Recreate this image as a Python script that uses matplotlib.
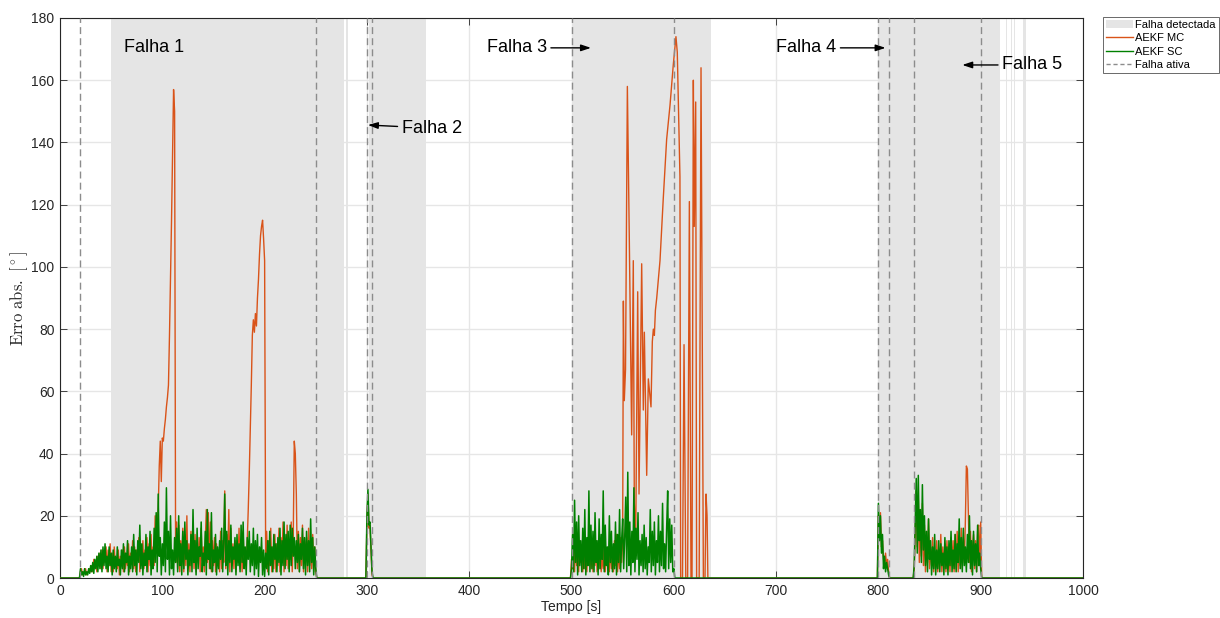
import numpy as np
import matplotlib
matplotlib.use('Agg')
from matplotlib import pyplot as plt
from matplotlib.patches import Patch
from matplotlib.lines import Line2D

plt.rcParams['font.family'] = ['Liberation Sans', 'DejaVu Sans']
plt.rcParams['mathtext.fontset'] = 'cm'

# intervals [s]
falha_ativa = [(20, 250), (300, 305), (500, 600), (800, 810), (835, 900)]
falha_detectada = [(50, 278), (279.6, 281.5), (302, 358), (500, 636), (800, 919),
                   (925.0, 925.7), (927.3, 927.9), (930.0, 930.6), (932.5, 933.1),
                   (934.2, 934.8), (941.5, 944.2)]

# AEKF SC, 1 s samples inside each fault window
sc_f1 = [3, 1, 2, 0.5, 3, 1, 2, 1, 3, 1.5, 4,
         2, 5, 1.5, 6, 3, 7, 2, 8, 3, 9,
         2, 10, 4, 11, 3, 7, 2, 10, 4, 8,
         1, 9, 3, 7, 2, 10, 4, 6, 1, 9,
         3, 11, 2, 8, 5, 12, 1, 7, 3, 10,
         2, 14, 4, 9, 1, 12, 5, 17, 3, 11,
         1, 8, 4, 14, 2, 10, 6, 15, 1, 9,
         3, 16, 5, 21, 2, 27, 7, 13, 1, 11,
         4, 18, 2, 29, 6, 15, 1, 20, 3, 9,
         1, 13, 5, 16, 2, 20, 4, 11, 1, 15,
         3, 18, 6, 12, 1, 9, 4, 14, 2, 22,
         5, 12, 1, 16, 3, 10, 7, 18, 2, 8,
         4, 15, 1, 22, 6, 11, 3, 21, 2, 9,
         5, 14, 1, 10, 3, 12, 6, 16, 2, 11,
         27, 4, 15, 1, 12, 5, 17, 2, 10, 6,
         13, 1, 14, 4, 11, 2, 17, 5, 18, 3,
         10, 1, 13, 6, 15, 2, 11, 4, 16, 1,
         12, 3, 14, 0.5, 10, 5, 13, 1, 9, 0.5,
         8, 3, 12, 1, 15, 4, 10, 2, 14, 6,
         11, 2, 13, 5, 16, 1, 12, 4, 18, 3,
         14, 6, 15, 2, 17, 4, 16, 7, 13, 3,
         12, 5, 14, 2, 11, 6, 16, 3, 13, 1,
         15, 4, 12, 2, 19, 5, 13, 1, 10, 3]
sc_f2 = [20, 28.5, 17, 18, 10, 2, 0]
sc_f3 = [3, 14, 2, 25, 5, 18, 1, 20, 4, 12, 2,
         16, 3, 22, 1, 13, 4, 28, 2, 17, 3,
         15, 2, 21, 5, 12, 1, 19, 3, 14, 6,
         28, 2, 17, 4, 10, 1, 20, 5, 15, 2,
         11, 3, 18, 1, 14, 5, 22, 2, 12, 19,
         3, 13, 26, 2, 34, 4, 18, 1, 15, 5,
         29, 2, 16, 6, 21, 1, 12, 4, 14, 2,
         17, 3, 13, 1, 10, 5, 22, 2, 15, 4,
         18, 1, 12, 5, 20, 2, 15, 4, 24, 3,
         11, 2, 16, 28, 3, 19, 5, 17, 2, 3]
sc_f4 = [24, 12, 20, 8, 14, 3, 7, 2, 5, 3, 1, 0]
sc_f5 = [4, 18, 32, 8, 33, 12, 22, 5, 30, 9,
         20, 4, 15, 2, 19, 6, 12, 1, 10, 3,
         14, 1, 9, 3, 12, 2, 11, 4, 8, 1,
         13, 3, 10, 1, 12, 4, 15, 2, 9, 3,
         14, 2, 11, 5, 19, 3, 13, 2, 16, 4,
         10, 2, 14, 5, 20, 3, 12, 1, 15, 4,
         11, 2, 17, 4, 8, 3]

# AEKF MC
mc_f1 = [2, 3, 1, 2, 2, 3, 1, 2, 2, 3, 2,
         4, 2, 6, 3, 5, 2, 7, 4, 8, 3,
         9, 3, 8, 5, 10, 2, 9, 4, 11, 2,
         8, 2, 10, 4, 6, 3, 9, 1, 7, 4,
         9, 2, 10, 3, 7, 4, 11, 2, 8, 5,
         12, 3, 10, 2, 9, 6, 13, 2, 10, 4,
         12, 3, 9, 5, 13, 2, 11, 4, 14, 3,
         10, 4, 20, 8, 18, 22, 36, 44, 31, 45,
         44, 48, 51, 55, 58, 62, 78, 96, 115, 135,
         157, 150, 5, 18, 3, 17, 2, 12, 4, 16,
         2, 14, 4, 20, 3, 11, 2, 15, 5, 12,
         3, 14, 2, 11, 5, 13, 2, 16, 4, 10,
         2, 12, 22, 5, 21, 3, 18, 2, 12, 4,
         13, 2, 11, 4, 9, 2, 15, 3, 12, 5,
         28, 3, 14, 6, 22, 2, 16, 4, 11, 3,
         12, 2, 10, 5, 16, 3, 11, 2, 15, 4,
         9, 3, 12, 22, 34, 48, 62, 78, 83, 79,
         85, 81, 90, 96, 104, 110, 113, 115, 109, 102,
         8, 15, 2, 12, 4, 16, 2, 10, 3, 14,
         2, 11, 4, 16, 2, 13, 5, 18, 2, 12,
         4, 17, 3, 12, 6, 18, 2, 14, 44, 40,
         27, 3, 15, 2, 13, 4, 17, 2, 12, 5,
         13, 2, 16, 4, 12, 3, 14, 2, 10, 2]
mc_f2 = [18, 27, 16, 17, 9, 1, 0]
mc_f3a = [6, 3, 14, 2, 15, 4, 10, 2, 12, 5,
          9, 2, 13, 3, 11, 2, 10, 4, 12, 3,
          8, 2, 10, 4, 12, 2, 9, 3, 11, 2,
          7, 3, 12, 2, 9, 4, 10, 2, 11, 3,
          9, 2, 12, 4, 14, 2, 9, 3, 13, 5]
mc_f3b_t = [550, 550.7, 551.6, 552.8, 554.6, 556.5, 558.8, 560.4, 561.4, 562.7,
            564.7, 566, 568.6, 570.2, 571.2, 573.5, 575.1, 577.7, 579, 580,
            581, 582, 583.3, 586.5, 589.7, 593, 596.3, 599.5, 602.1, 603.4,
            606, 606.7, 608.5, 610, 611.7, 613.5, 615.2, 616.8, 617.8, 619.1,
            620, 621.4, 622.3, 624.8, 626.6, 628.9, 630.5, 631.5, 632.5, 633.3]
mc_f3b = [12, 89, 57, 67, 158, 109, 46, 102, 24, 10,
          92, 27, 101, 54, 79, 33, 64, 55, 76, 80,
          78, 86, 90, 102, 122, 141, 152, 165, 174, 169,
          129, 0, 0, 75, 0, 0, 121, 0, 0, 160,
          113, 153, 0, 0, 164, 0, 0, 27, 20, 0]
mc_f4 = [20, 16, 21, 10, 12, 6, 5, 8, 4, 6, 2, 0]
mc_f5 = [3, 14, 28, 10, 26, 5, 18, 7, 24, 4,
         17, 2, 12, 5, 19, 3, 10, 4, 13, 2,
         8, 3, 12, 2, 9, 4, 14, 2, 10, 3,
         11, 2, 12, 3, 9, 2, 13, 4, 12, 2,
         14, 3, 15, 2, 12, 4, 16, 3, 13, 5,
         18, 36, 35, 20, 5, 15, 2, 10, 14, 3,
         12, 2, 15, 17, 4, 18, 0]


def seg(t0, vals):
    return np.arange(t0, t0 + len(vals)), np.asarray(vals, float)


def join(*segs):
    t = np.concatenate([np.asarray(s[0], float) for s in segs])
    v = np.concatenate([np.asarray(s[1], float) for s in segs])
    return t, v


t_sc, v_sc = join(([0, 19], [0, 0]), seg(20, sc_f1), ([251, 299], [0, 0]),
                  seg(300, sc_f2), ([307, 499], [0, 0]), seg(500, sc_f3),
                  ([601, 799], [0, 0]), seg(800, sc_f4), ([812, 834], [0, 0]),
                  seg(835, sc_f5), ([901, 1000], [0, 0]))
t_mc, v_mc = join(([0, 19], [0, 0]), seg(20, mc_f1), ([251, 299], [0, 0]),
                  seg(300, mc_f2), ([307, 499], [0, 0]), seg(500, mc_f3a),
                  (mc_f3b_t, mc_f3b), ([634, 799], [0, 0]), seg(800, mc_f4),
                  ([812, 834], [0, 0]), seg(835, mc_f5), ([902, 1000], [0, 0]))

c_mc = '#D95319'
c_sc = '#008000'
c_shade = '#e5e5e5'
c_dash = '#8c8c8c'
c_ax = '#262626'

fig = plt.figure(figsize=(12.2, 6.18), dpi=100)
ax = fig.add_axes([0.0492, 0.0647, 0.8385, 0.9062])
ax.set_axisbelow(True)
ax.grid(True, color='#e6e6e6', linewidth=1.0)

for a, b in falha_detectada:
    ax.axvspan(a, b, color=c_shade, lw=0, zorder=1)

ax.plot(t_mc, v_mc, color=c_mc, lw=1.0, zorder=3)
ax.plot(t_sc, v_sc, color=c_sc, lw=1.1, zorder=4)

for a, b in falha_ativa:
    for x in (a, b):
        ax.axvline(x, color=c_dash, lw=1.0, ls=(0, (5, 3)), zorder=5)

ax.set_xlim(0, 1000)
ax.set_ylim(0, 180)
ax.set_xticks(np.arange(0, 1001, 100))
ax.set_yticks(np.arange(0, 181, 20))
ax.tick_params(direction='in', top=True, right=True, length=5, width=0.6,
               colors=c_ax, labelsize=10, pad=4)
for s in ax.spines.values():
    s.set_color(c_ax)
    s.set_linewidth(0.8)
ax.set_xlabel('Tempo [s]', fontsize=10, color=c_ax, labelpad=2)
ax.set_ylabel(r'$\mathrm{Erro\ abs.\ [^\circ]}$', fontsize=12, color=c_ax, labelpad=1)

arr = dict(arrowstyle='-|>,head_length=0.45,head_width=0.15', color='black',
           lw=1.0, shrinkA=1, shrinkB=0)
ax.text(63, 170.4, 'Falha 1', fontsize=13, va='center', ha='left', zorder=6)
ax.annotate('Falha 2', xy=(301, 145.6), xytext=(334, 144.6), fontsize=13,
            va='center', ha='left', arrowprops=arr, zorder=6)
ax.annotate('Falha 3', xy=(519, 170.4), xytext=(417, 170.4), fontsize=13,
            va='center', ha='left', arrowprops=arr, zorder=6)
ax.annotate('Falha 4', xy=(807, 170.4), xytext=(700, 170.4), fontsize=13,
            va='center', ha='left', arrowprops=arr, zorder=6)
ax.annotate('Falha 5', xy=(882, 164.9), xytext=(921, 164.9), fontsize=13,
            va='center', ha='left', arrowprops=arr, zorder=6)

handles = [Patch(facecolor=c_shade, edgecolor='none'),
           Line2D([], [], color=c_mc, lw=1.0),
           Line2D([], [], color=c_sc, lw=1.0),
           Line2D([], [], color=c_dash, lw=1.0, ls=(0, (3, 2)))]
labels = ['Falha detectada', 'AEKF MC', 'AEKF SC', 'Falha ativa']
leg = fig.legend(handles, labels, loc='upper left', bbox_to_anchor=(0.904, 0.973),
                 frameon=True, fancybox=False, edgecolor=c_ax, fontsize=8,
                 handlelength=2.4, handletextpad=0.2, borderpad=0.3,
                 labelspacing=0.3, borderaxespad=0)
leg.get_frame().set_linewidth(0.6)

fig.savefig('out.png', dpi=100)
